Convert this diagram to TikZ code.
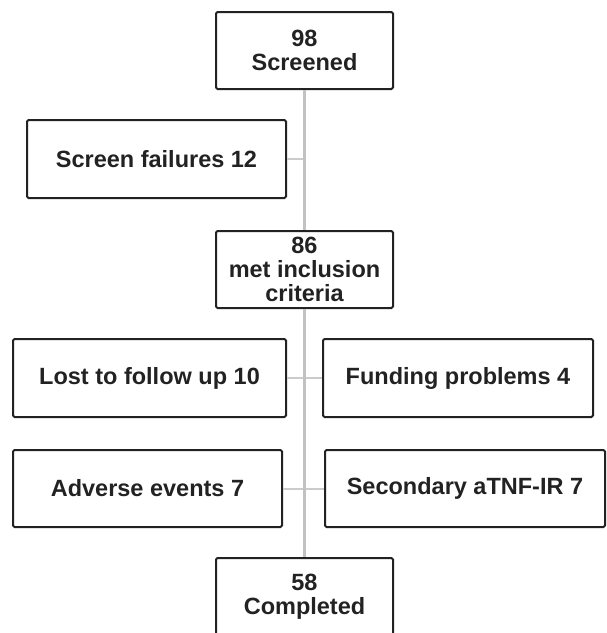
\documentclass[tikz,border=0pt]{standalone}
\usepackage{fontspec}
\setmainfont{Liberation Sans}
\usepackage{tikz}
\usetikzlibrary{arrows.meta,positioning,calc}

\definecolor{boxline}{HTML}{222222}
\definecolor{trunk}{HTML}{C2C2C2}

\begin{document}
\begin{tikzpicture}[x=1pt, y=-1pt,
        box/.style={draw=boxline, line width=2pt, rounded corners=1.5pt, inner sep=0pt,
            align=center, font=\fontsize{23.5}{24}\selectfont\bfseries, text=boxline},
        flow/.style={draw=trunk, line width=3pt},
        side/.style={draw=trunk!85, line width=2pt}]

        \useasboundingbox (0,0) rectangle (607,633);

        % Nodes
        \node[box, minimum width=177pt, minimum height=77pt] (screened) at (304.5,50.5) {98\\Screened};
        \node[box, minimum width=259pt, minimum height=78pt] (fail) at (156.5,159) {Screen failures 12};
        \node[box, minimum width=177pt, minimum height=77pt] (incl) at (304.5,269.5) {86\\met inclusion\\criteria};
        \node[box, minimum width=273pt, minimum height=78pt] (lost) at (149.5,378) {Lost to follow up 10};
        \node[box, minimum width=270pt, minimum height=78pt] (fund) at (458,378) {Funding problems 4};
        \node[box, minimum width=269pt, minimum height=77pt] (adverse) at (147.5,488.5) {Adverse events 7};
        \node[box, minimum width=280pt, minimum height=77pt] (second) at (465,488.5) {Secondary aTNF-IR 7};
        \node[box, minimum width=177pt, minimum height=78pt] (done) at (304.5,597) {58\\Completed};

        % Lines
        \draw[side] (lost) -- (fund);
        \draw[side] (adverse) -- (second);
        \draw[side] (fail.east) -- (fail.east -| screened.south);
        \draw[flow] (screened) -- (incl);
        \draw[flow] (incl) -- (done);

    \end{tikzpicture}
\end{document}
